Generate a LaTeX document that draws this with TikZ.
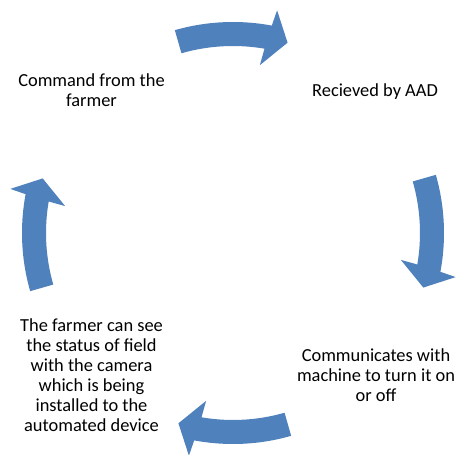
\documentclass[tikz,border=0pt]{standalone}
\usepackage{fontspec}
\setmainfont{Carlito}
\definecolor{cycblue}{RGB}{79,129,189}
\begin{document}
\begin{tikzpicture}[x=1pt,y=1pt,
  cyc/.style={fill=cycblue,draw=none},
  lbl/.style={align=center,inner sep=0pt,anchor=base,font=\fontsize{18.4}{20}\selectfont}]
\useasboundingbox (0,0) rectangle (456,455);
\fill[white] (0,0) rectangle (456,455);
\begin{scope}[shift={(233,222)}]
\foreach \m in {90,0,-90,180}{
  \fill[cyc] ({\m+16}:211) arc[start angle={\m+16}, end angle={\m-10.6}, radius=211]
    -- ({\m-11.2}:227) -- ({\m-16}:198) -- ({\m-9.1}:170) -- ({\m-9.7}:187)
    arc[start angle={\m-9.7}, end angle={\m+16}, radius=187] -- cycle;
}
\end{scope}
\node[lbl] (t1) at (91.5,348) {Command from the\\farmer};
\node[lbl] (t2) at (375,358) {Recieved by AAD};
\node[lbl] (t3) at (376,53) {Communicates with\\machine to turn it on\\or off};
\node[lbl] (t4) at (91.5,23) {The farmer can see\\the status of field\\with the camera\\which is being\\installed to the\\automated device};
\end{tikzpicture}
\end{document}
